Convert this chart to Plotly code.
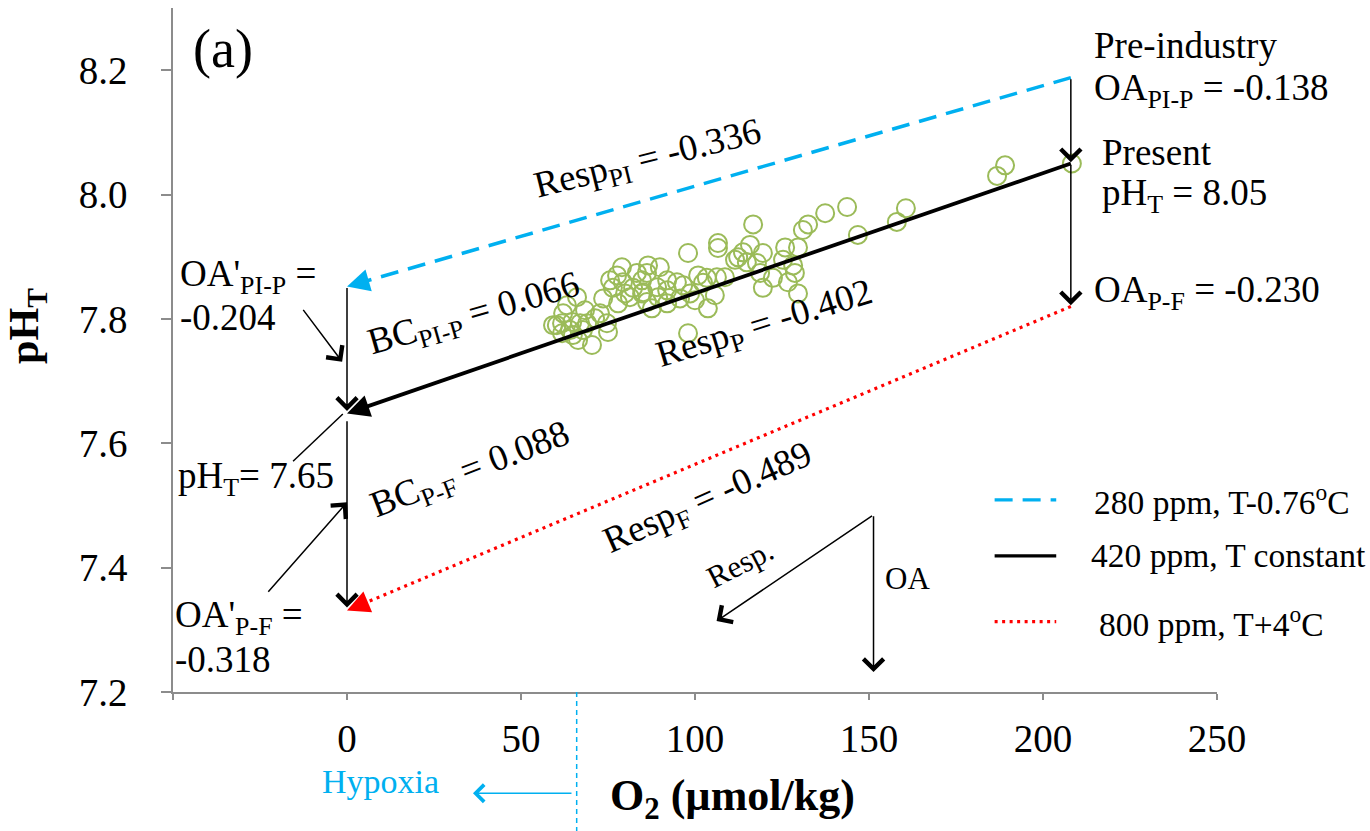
import plotly.graph_objects as go

# ---------------- data ----------------
o2_obs = [189.1, 186.8, 143.7, 137.4, 160.6, 158.0, 146.8, 116.7, 132.5, 131.0,
          106.6, 106.6, 98.0, 115.8, 113.8, 125.9, 129.6, 119.5, 111.5, 114.9,
          117.8, 125.3, 128.2, 118.7, 128.7, 122.4, 126.7, 119.5, 129.6, 108.6,
          103.4, 105.7, 103.7, 100.0, 98.6, 96.6, 94.8, 100.9, 98.0, 89.9,
          86.5, 86.2, 92.0, 89.1, 85.1, 89.4, 86.2, 92.0, 87.6, 84.8,
          82.2, 79.0, 77.6, 75.6, 79.3, 76.4, 79.9, 77.9, 73.6, 72.7,
          69.0, 74.7, 75.0, 70.4, 66.4, 64.1, 61.8, 60.3, 64.7, 63.2,
          62.1, 67.0, 64.9, 67.8, 61.8, 66.1, 81.3, 84.8, 83.3, 92.0,
          95.7, 102.3, 106.3, 112.4, 208.3, 59.2, 68.4, 71.3]
ph_obs = [8.047, 8.030, 7.980, 7.970, 7.978, 7.956, 7.935, 7.952, 7.952, 7.943,
          7.922, 7.914, 7.906, 7.919, 7.907, 7.915, 7.915, 7.906, 7.895, 7.891,
          7.890, 7.895, 7.886, 7.874, 7.874, 7.866, 7.859, 7.850, 7.841, 7.867,
          7.866, 7.838, 7.817, 7.830, 7.841, 7.854, 7.859, 7.870, 7.777, 7.883,
          7.886, 7.874, 7.862, 7.851, 7.843, 7.835, 7.827, 7.825, 7.817, 7.841,
          7.850, 7.883, 7.870, 7.862, 7.859, 7.850, 7.841, 7.825, 7.833, 7.809,
          7.793, 7.793, 7.779, 7.758, 7.766, 7.782, 7.793, 7.790, 7.795, 7.822,
          7.809, 7.793, 7.774, 7.782, 7.777, 7.835, 7.835, 7.862, 7.874, 7.846,
          7.833, 7.858, 7.867, 7.899, 8.050, 7.790, 7.814, 7.801]

scenario_names = ["280 ppm, T-0.76<sup>o</sup>C", "420 ppm, T constant", "800 ppm, T+4<sup>o</sup>C"]
o2_present = 208
o2_end = 0
ph_at_present = [8.188, 8.050, 7.820]   # pH at present O2
ph_at_zero = [7.852, 7.648, 7.331]      # pH at O2 = 0
hypoxia_o2 = 66

x_tickvals = [-50, 0, 50, 100, 150, 200, 250]
x_ticktext = ["", "0", "50", "100", "150", "200", "250"]
y_tickvals = [7.2, 7.4, 7.6, 7.8, 8.0, 8.2]
y_ticktext = ["7.2", "7.4", "7.6", "7.8", "8.0", "8.2"]

# ---------------- style ----------------
FONT = "Liberation Serif, Times New Roman, serif"
BLUE = "#00B0F0"
GREEN = "#9BBB59"
RED = "#FF0000"
AXIS = "#8C8C8C"
colors = [BLUE, "black", RED]
dashes = ["18px,10px", "solid", "3px,4.5px"]
widths = [3.5, 3.8, 3.2]
TS = 37

fig = go.Figure()

fig.add_trace(go.Scatter(
    x=o2_obs, y=ph_obs, mode="markers",
    marker=dict(symbol="circle-open", size=18, color=GREEN, line=dict(width=2, color=GREEN)),
    showlegend=False, hoverinfo="skip"))

for i in range(3):
    fig.add_trace(go.Scatter(
        x=[o2_present, o2_end + 4], y=[ph_at_present[i], ph_at_zero[i] + (ph_at_present[i] - ph_at_zero[i]) * 4 / o2_present],
        mode="lines", line=dict(color=colors[i], width=widths[i], dash=dashes[i]),
        showlegend=False, hoverinfo="skip"))

ann = []
# arrow heads of the three scenario lines
for i in range(3):
    slope = (ph_at_present[i] - ph_at_zero[i]) / (o2_present - o2_end)
    ann.append(dict(x=o2_end, y=ph_at_zero[i], ax=o2_end + 6, ay=ph_at_zero[i] + slope * 6,
                    xref="x", yref="y", axref="x", ayref="y", text="", showarrow=True,
                    arrowhead=2, arrowsize=1.5, arrowwidth=3, arrowcolor=colors[i], standoff=0))

def thin_arrow(x, y, ax, ay, color="black", width=1.5, head=4, size=2.6):
    ann.append(dict(x=x, y=y, ax=ax, ay=ay, xref="x", yref="y", axref="x", ayref="y",
                    text="", showarrow=True, arrowhead=head, arrowsize=size,
                    arrowwidth=width, arrowcolor=color, standoff=0))

# vertical arrows at present O2
thin_arrow(o2_present, ph_at_present[1] + 0.002, o2_present, ph_at_present[0])
thin_arrow(o2_present, ph_at_present[2] + 0.002, o2_present, ph_at_present[1])
# vertical arrows at O2 = 0
thin_arrow(o2_end, ph_at_zero[1] + 0.004, o2_end, ph_at_zero[0])
thin_arrow(o2_end, ph_at_zero[2] + 0.005, o2_end, ph_at_zero[1] - 0.01)
# pointer arrows
thin_arrow(-1.4, 7.731, -12.9, 7.817)
thin_arrow(0, 7.505, -23, 7.359)
# schematic Resp./OA
thin_arrow(106.2, 7.314, 151.3, 7.485)
thin_arrow(151.3, 7.232, 151.3, 7.485)

def txt(x, y, s, size=TS, angle=0, xanchor="center", color="black"):
    ann.append(dict(x=x, y=y, xref="x", yref="y", text=s,
                    showarrow=False, textangle=angle, xanchor=xanchor, yanchor="middle",
                    font=dict(family=FONT, size=size, color=color)))

txt(-35.5, 8.234, "(a)", size=54)
txt(214.0, 8.240, "Pre-industry", xanchor="left")
txt(214.0, 8.168, "OA<sub>PI-P</sub> = -0.138", xanchor="left")
txt(216.5, 8.068, "Present", xanchor="left")
txt(216.5, 7.998, "pH<sub>T</sub> = 8.05", xanchor="left")
txt(214.0, 7.843, "OA<sub>P-F</sub> = -0.230", xanchor="left")
txt(-48.6, 7.868, "OA'<sub>PI-P</sub> =", xanchor="left")
txt(-48.6, 7.803, "-0.204", xanchor="left")
txt(-49.0, 7.543, "pH<sub>T</sub>= 7.65", xanchor="left")
txt(-50.0, 7.320, "OA'<sub>P-F</sub> =", xanchor="left")
txt(-50.0, 7.253, "-0.318", xanchor="left")
txt(86.5, 8.055, "Resp<sub>PI</sub> = -0.336", angle=-14)
txt(36.4, 7.806, "BC<sub>PI-P</sub> = 0.066", angle=-16)
txt(120.0, 7.790, "Resp<sub>P</sub> = -0.402", angle=-17)
txt(35.4, 7.554, "BC<sub>P-F</sub> = 0.088", angle=-21)
txt(103.9, 7.509, "Resp<sub>F</sub> = -0.489", angle=-24)
txt(113.0, 7.407, "Resp.", size=31, angle=-27)
txt(154.0, 7.383, "OA", size=31, xanchor="left")

# legend (manual)
leg_y = [0.281, 0.199, 0.103]
leg_tx = [0.880, 0.877, 0.885]
shapes = []
for i in range(3):
    shapes.append(dict(type="line", xref="paper", yref="paper", x0=0.787, x1=0.846,
                       y0=leg_y[i], y1=leg_y[i], line=dict(color=colors[i], width=3.2, dash=dashes[i])))
    ann.append(dict(x=leg_tx[i], y=leg_y[i], xref="paper", yref="paper", text=scenario_names[i],
                    showarrow=False, xanchor="left", yanchor="middle",
                    font=dict(family=FONT, size=33.5, color="black")))

# pH_T = 7.65 pointer line
shapes.append(dict(type="line", xref="x", yref="y", x0=-15.5, y0=7.571, x1=-1.2, y1=7.647,
                   line=dict(color="black", width=1.5)))
# hypoxia marker
shapes.append(dict(type="line", xref="x", yref="paper", x0=hypoxia_o2, x1=hypoxia_o2, y0=0, y1=-0.205,
                   line=dict(color=BLUE, width=1.5, dash="5px,4px")))
ann.append(dict(x=36.2, y=-0.148, xref="x", yref="paper", ax=100, ay=0, axref="pixel", ayref="pixel",
                text="", showarrow=True, arrowhead=4, arrowsize=2.2, arrowwidth=1.5, arrowcolor=BLUE, standoff=0))
ann.append(dict(x=(380 - 347) / 3.48, y=(692 - 781) / 684, xref="x", yref="paper", text="Hypoxia",
                showarrow=False, xanchor="center", yanchor="middle",
                font=dict(family=FONT, size=34, color=BLUE)))

# axis titles
ann.append(dict(x=0.536, y=-0.155, xref="paper", yref="paper", text="<b>O<sub>2</sub> (µmol/kg)</b>",
                showarrow=False, xanchor="center", yanchor="middle", font=dict(family=FONT, size=44, color="black")))
ann.append(dict(x=-0.14, y=0.535, xref="paper", yref="paper", text="<b>pH<sub>T</sub></b>", textangle=-90,
                showarrow=False, xanchor="center", yanchor="middle", font=dict(family=FONT, size=42, color="black")))

fig.update_layout(
    width=1370, height=831,
    margin=dict(l=173, r=153, t=8, b=139, autoexpand=False),
    plot_bgcolor="white", paper_bgcolor="white",
    showlegend=False,
    annotations=ann, shapes=shapes,
    xaxis=dict(range=[-50, 250], tickvals=x_tickvals, ticktext=x_ticktext, showgrid=False, zeroline=False,
               automargin=False,
               showline=True, linecolor=AXIS, linewidth=1.5, ticks="outside", ticklen=6, tickcolor=AXIS,
               tickwidth=1.5, ticklabelstandoff=5, tickfont=dict(family=FONT, size=39, color="black")),
    yaxis=dict(range=[7.2, 8.3], tickvals=y_tickvals, ticktext=y_ticktext, showgrid=False, zeroline=False,
               automargin=False,
               showline=True, linecolor=AXIS, linewidth=1.5, ticks="outside", ticklen=10, tickcolor=AXIS,
               tickwidth=1.5, ticklabelstandoff=26, tickfont=dict(family=FONT, size=39, color="black")),
)

fig.write_html("out.html", config={"displayModeBar": False},
               post_script="document.body.style.margin='0px';document.body.style.padding='0px';")
